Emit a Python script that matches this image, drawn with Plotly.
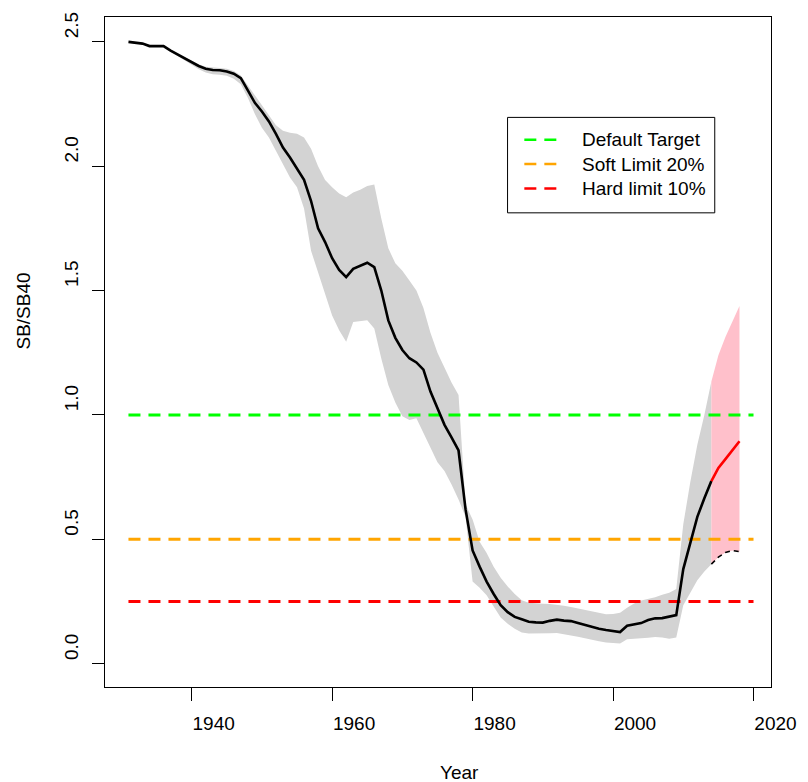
import plotly.graph_objects as go

# Spawning biomass relative to SB40 (SB/SB40), historical estimates 1931-2014
years = list(range(1931, 2015))
sb_ratio = [
    2.500, 2.497, 2.493, 2.483, 2.483, 2.483, 2.465, 2.450, 2.434, 2.420,
    2.403, 2.392, 2.387, 2.386, 2.381, 2.372, 2.354, 2.305, 2.255, 2.220,
    2.180, 2.130, 2.075, 2.035, 1.990, 1.945, 1.860, 1.750, 1.695, 1.630,
    1.583, 1.554, 1.587, 1.600, 1.612, 1.594, 1.500, 1.380, 1.310, 1.261,
    1.228, 1.211, 1.182, 1.094, 1.025, 0.960, 0.910, 0.857, 0.620, 0.455,
    0.390, 0.330, 0.280, 0.235, 0.207, 0.188, 0.178, 0.168, 0.166, 0.165,
    0.172, 0.177, 0.173, 0.171, 0.163, 0.155, 0.146, 0.140, 0.135, 0.132,
    0.127, 0.152, 0.158, 0.163, 0.175, 0.182, 0.183, 0.189, 0.195, 0.380,
    0.490, 0.590, 0.665, 0.734,
]
sb_upper = [
    2.500, 2.497, 2.493, 2.483, 2.483, 2.484, 2.467, 2.453, 2.438, 2.424,
    2.410, 2.400, 2.396, 2.395, 2.392, 2.383, 2.365, 2.325, 2.285, 2.240,
    2.200, 2.165, 2.143, 2.135, 2.131, 2.115, 2.070, 2.000, 1.945, 1.915,
    1.890, 1.875, 1.894, 1.905, 1.920, 1.927, 1.790, 1.670, 1.610, 1.580,
    1.540, 1.500, 1.430, 1.330, 1.250, 1.190, 1.130, 1.080, 0.640, 0.580,
    0.490, 0.445, 0.390, 0.345, 0.310, 0.280, 0.255, 0.245, 0.242, 0.241,
    0.240, 0.238, 0.233, 0.228, 0.222, 0.216, 0.210, 0.205, 0.199, 0.200,
    0.205, 0.225, 0.242, 0.254, 0.260, 0.267, 0.277, 0.285, 0.300, 0.560,
    0.730, 0.880, 1.000, 1.134,
]
sb_lower = [
    2.500, 2.497, 2.493, 2.483, 2.482, 2.478, 2.458, 2.442, 2.425, 2.408,
    2.390, 2.377, 2.370, 2.368, 2.364, 2.352, 2.330, 2.275, 2.210, 2.155,
    2.115, 2.060, 2.010, 1.955, 1.915, 1.830, 1.660, 1.570, 1.490, 1.400,
    1.340, 1.294, 1.374, 1.378, 1.381, 1.347, 1.227, 1.120, 1.050, 0.995,
    0.980, 0.987, 0.930, 0.870, 0.810, 0.775, 0.720, 0.660, 0.590, 0.330,
    0.305, 0.275, 0.230, 0.185, 0.160, 0.140, 0.125, 0.121, 0.120, 0.121,
    0.122, 0.123, 0.118, 0.113, 0.108, 0.103, 0.097, 0.090, 0.085, 0.082,
    0.081, 0.098, 0.099, 0.101, 0.104, 0.107, 0.105, 0.100, 0.105, 0.235,
    0.285, 0.335, 0.370, 0.400,
]

# Projection 2014-2018
proj_years = [2014, 2015, 2016, 2017, 2018]
proj_ratio = [0.734, 0.787, 0.822, 0.858, 0.894]
proj_upper = [1.134, 1.240, 1.313, 1.378, 1.438]
proj_lower = [0.400, 0.428, 0.447, 0.455, 0.450]

# Reference levels
ref_names = ["Default Target", "Soft Limit 20%", "Hard limit 10%"]
ref_levels = [1.0, 0.5, 0.25]
ref_colors = ["#00FF00", "#FFA500", "#FF0000"]
ref_span = [1931, 2020]

x_ticks = [1940, 1960, 1980, 2000, 2020]
y_ticks = [0.0, 0.5, 1.0, 1.5, 2.0, 2.5]

FONT = "Liberation Sans, Arial, Helvetica, sans-serif"
FS = 19
DASH = "12px,8px"

# Plot-area geometry (pixels)
W, H = 808, 782
ML, MR, MT, MB = 105, 28, 13, 95
PW, PH = W - ML - MR, H - MT - MB


def px(x):
    return (x - ML) / PW


def py(y):
    return (H - MB - y) / PH


fig = go.Figure()

# Historical uncertainty band
fig.add_trace(go.Scatter(
    x=years + years[::-1], y=sb_upper + sb_lower[::-1],
    fill="toself", fillcolor="#D3D3D3", line=dict(width=0),
    mode="lines", showlegend=False, hoverinfo="skip",
))
# Projection band
fig.add_trace(go.Scatter(
    x=proj_years + proj_years[::-1], y=proj_upper + proj_lower[::-1],
    fill="toself", fillcolor="#FFC0CB", line=dict(width=0),
    mode="lines", showlegend=False, hoverinfo="skip",
))

# Reference lines
for name, lvl, col in zip(ref_names, ref_levels, ref_colors):
    fig.add_trace(go.Scatter(
        x=ref_span, y=[lvl, lvl], mode="lines", name=name, showlegend=False,
        line=dict(color=col, width=3, dash=DASH),
    ))

# Historical trajectory
fig.add_trace(go.Scatter(
    x=years, y=sb_ratio, mode="lines", showlegend=False,
    line=dict(color="black", width=2.6),
))
# Projected trajectory
fig.add_trace(go.Scatter(
    x=proj_years, y=proj_ratio, mode="lines", showlegend=False,
    line=dict(color="#FF0000", width=2.6),
))
# Lower bound of projection
fig.add_trace(go.Scatter(
    x=proj_years, y=proj_lower, mode="lines", showlegend=False,
    line=dict(color="black", width=1.5, dash="5px,4px"),
))

# Legend box: frame, dashed samples and labels
shapes = [dict(type="rect", xref="paper", yref="paper",
               x0=px(513), x1=px(723), y0=py(210), y1=py(114),
               line=dict(color="black", width=1), fillcolor="white",
               layer="above")]
annotations = []
row_y = [136.5, 161, 185.5]
for name, col, ry in zip(ref_names, ref_colors, row_y):
    shapes.append(dict(type="line", xref="paper", yref="paper",
                       x0=px(530), x1=px(563), y0=py(ry), y1=py(ry),
                       line=dict(color=col, width=2.5, dash=DASH),
                       layer="above"))
    annotations.append(dict(text=name, xref="paper", yref="paper",
                            x=px(586), y=py(ry), xanchor="left",
                            yanchor="middle", showarrow=False,
                            font=dict(family=FONT, size=FS, color="black")))

# Axis titles
annotations += [
    dict(text="Year", xref="paper", yref="paper", x=0.5, y=0,
         xanchor="left", yanchor="middle", yshift=-85, showarrow=False,
         font=dict(family=FONT, size=FS, color="black")),
    dict(text="SB/SB40", xref="paper", yref="paper", x=0, y=0.5,
         xanchor="center", yanchor="bottom", xshift=-82, textangle=-90,
         showarrow=False, font=dict(family=FONT, size=FS, color="black")),
]

axis_common = dict(
    showgrid=False, zeroline=False, showline=True, mirror=True,
    linecolor="black", linewidth=1, ticks="outside", tickcolor="black",
    tickwidth=1, tickfont=dict(family=FONT, size=FS, color="black"),
)

fig.update_layout(
    width=W, height=H,
    margin=dict(l=ML, r=MR, t=MT, b=MB, pad=0),
    plot_bgcolor="white", paper_bgcolor="white",
    font=dict(family=FONT, size=FS, color="black"),
    showlegend=False,
    xaxis=dict(range=[1927.66, 2022.49], tickvals=x_ticks, ticklen=13,
               ticklabelshift=22, ticklabelstandoff=6, **axis_common),
    yaxis=dict(range=[-0.094, 2.6], tickvals=y_ticks, tickformat=".1f",
               tickangle=-90, ticklen=12, ticklabelshift=-14,
               ticklabelstandoff=6, **axis_common),
    shapes=shapes,
    annotations=annotations,
)

fig.write_html("out.html")
